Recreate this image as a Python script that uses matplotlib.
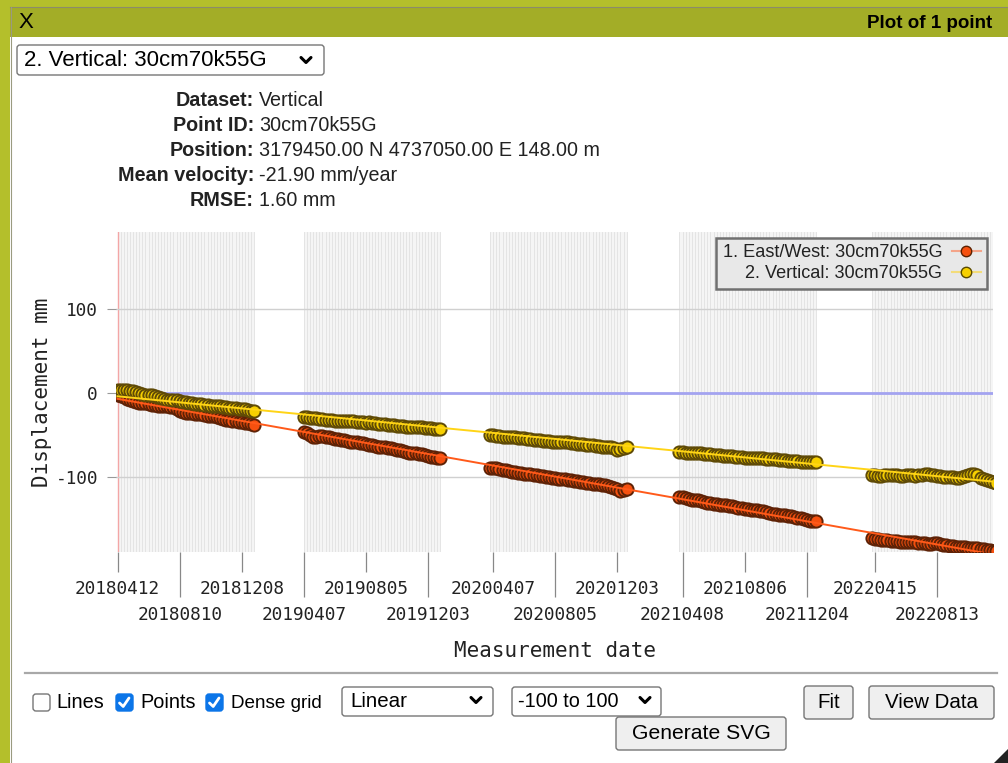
import numpy as np
import pandas as pd
import matplotlib
matplotlib.use('Agg')
import matplotlib.pyplot as plt
from matplotlib.patches import Rectangle, FancyBboxPatch, Polygon
from matplotlib.lines import Line2D

# ---------------- data ----------------
series_labels = ['1. East/West: 30cm70k55G', '2. Vertical: 30cm70k55G']

# acquisition seasons (6-day revisit); first acquisition date of each season
segment_starts = ['2018-04-12', '2019-04-07', '2020-04-01', '2021-04-02', '2022-04-09']

# displacement values (mm), one per acquisition
ew_seg1 = [-3, -4, -5, -7, -8, -10, -11, -12, -12, -12, -13, -14, -14, -15, -15,
           -16, -16, -17, -17, -19, -21, -23, -24, -24, -24, -25, -25, -25, -26, -27,
           -27, -28, -29, -30, -31, -32, -32, -33, -34, -35, -35, -36, -36, -37, -38]
ew_seg2 = [-47, -48, -50, -52, -53, -51, -51, -52, -53, -54, -55, -55, -56, -56, -57,
           -58, -58, -59, -60, -60, -61, -62, -62, -63, -64, -64, -65, -66, -66, -67,
           -68, -68, -69, -70, -71, -71, -72, -73, -73, -74, -75, -76, -76, -77, -78]
ew_seg3 = [-89, -89, -90, -91, -92, -92, -93, -94, -94, -95, -95, -96, -97, -97, -98,
           -98, -99, -99, -100, -100, -101, -101, -102, -102, -103, -104, -104, -105, -105, -106,
           -106, -107, -107, -108, -109, -109, -110, -110, -111, -112, -113, -115, -117, -116, -115]
ew_seg4 = [-124, -124, -125, -126, -127, -128, -128, -129, -130, -131, -131, -132, -132, -133, -134,
           -134, -135, -135, -136, -137, -137, -138, -138, -139, -140, -140, -141, -141, -142, -143,
           -144, -144, -145, -145, -146, -147, -147, -148, -149, -149, -150, -151, -152, -152, -153]
ew_seg5 = [-173, -174, -174, -175, -175, -175, -176, -176, -176, -177, -177, -177, -178, -178, -178,
           -179, -179, -179, -180, -180, -179, -179, -180, -181, -181, -182, -182, -183, -183, -184,
           -184, -185, -185, -185, -185, -186, -186, -187, -187, -188, -188]

vert_seg1 = [3, 4, 4, 3, 2, 2, 1, 0, -1, -2, -3, -3, -4, -5, -6,
             -7, -8, -8, -9, -9, -10, -11, -11, -12, -12, -13, -13, -13, -14, -14,
             -15, -15, -16, -16, -17, -17, -18, -18, -18, -19, -19, -19, -20, -21, -22]
vert_seg2 = [-29, -29, -30, -30, -30, -31, -31, -32, -32, -32, -33, -33, -33, -34, -33,
             -34, -34, -35, -35, -35, -36, -35, -36, -36, -37, -37, -37, -38, -38, -38,
             -39, -39, -39, -40, -40, -40, -41, -41, -41, -42, -42, -42, -43, -43, -43]
vert_seg3 = [-50, -50, -51, -51, -52, -52, -52, -53, -53, -54, -54, -54, -55, -55, -56,
             -56, -56, -57, -57, -57, -58, -58, -58, -59, -59, -59, -60, -60, -61, -61,
             -61, -62, -62, -62, -63, -63, -64, -64, -64, -65, -66, -68, -67, -66, -65]
vert_seg4 = [-70, -70, -71, -71, -71, -72, -72, -72, -73, -73, -73, -74, -74, -74, -75,
             -75, -75, -75, -76, -76, -76, -77, -77, -77, -77, -78, -78, -78, -79, -79,
             -79, -79, -80, -80, -80, -81, -81, -81, -81, -82, -82, -82, -82, -82, -82]
vert_seg5 = [-98, -98, -99, -99, -98, -98, -98, -98, -98, -99, -99, -98, -98, -98, -99,
             -98, -98, -97, -97, -98, -98, -99, -99, -100, -100, -100, -100, -101, -101, -100,
             -99, -98, -97, -96, -98, -101, -102, -104, -105, -106, -107]

ew_segments = [ew_seg1, ew_seg2, ew_seg3, ew_seg4, ew_seg5]
vert_segments = [vert_seg1, vert_seg2, vert_seg3, vert_seg4, vert_seg5]

# linear fits (endpoints)
trend_dates = ['2018-04-12', '2022-12-05']
ew_trend = [-7, -193]
vert_trend = [-4, -106]

tick_labels = ['20180412', '20180810', '20181208', '20190407', '20190805', '20191203', '20200407',
               '20200805', '20201203', '20210408', '20210806', '20211204', '20220415', '20220813']
yticks = [-100, 0, 100]

info_keys = ['Dataset:', 'Point ID:', 'Position:', 'Mean velocity:', 'RMSE:']
info_vals = ['Vertical', '30cm70k55G', '3179450.00 N 4737050.00 E 148.00 m', '-21.90 mm/year', '1.60 mm']

# ---------------- figure ----------------
W, H = 1008, 763
fig = plt.figure(figsize=(W / 100, H / 100), dpi=100)
fig.patch.set_facecolor('white')

ui = fig.add_axes([0, 0, 1, 1], zorder=0)
ui.set_xlim(0, W)
ui.set_ylim(H, 0)
ui.axis('off')

SANS = 'Liberation Sans'
MONO = 'DejaVu Sans Mono'
GREEN_OUT = '#b4bf2b'
GREEN_BAR = '#a3ad27'

# window frame
ui.add_patch(Rectangle((0, 0), W, 7, color=GREEN_OUT, lw=0))
ui.add_patch(Rectangle((0, 0), 10, H, color=GREEN_OUT, lw=0))
ui.add_patch(Rectangle((10, 7), W - 10, 30, color=GREEN_BAR, lw=0))
ui.plot([10, W], [6.5, 6.5], color='#8c8c6a', lw=0.8)
ui.plot([10.5, 10.5], [7, H], color='#9a9a80', lw=0.8)
ui.text(26, 23, 'X', fontsize=16, family=SANS, ha='center', va='center', color='black')
ui.text(992, 24, 'Plot of 1 point', fontsize=13.5, family=SANS, weight='bold', ha='right', va='center')


def box(x0, y0, x1, y1, fc='white', ec='#767676', r=3, lw=1.0):
    ui.add_patch(FancyBboxPatch((x0, y0), x1 - x0, y1 - y0,
                                boxstyle=f'round,pad=0,rounding_size={r}',
                                fc=fc, ec=ec, lw=lw))


def chevron(x, y, s=5):
    ui.plot([x - s, x, x + s], [y - 2.5, y + 2.5, y - 2.5], color='black', lw=2.2,
            solid_capstyle='round', solid_joinstyle='round')


# top dropdown
box(17, 45, 324, 75)
ui.text(24, 60.5, series_labels[1], fontsize=16, family=SANS, va='center')
chevron(306, 60)

# info block
for i, (k, v) in enumerate(zip(info_keys, info_vals)):
    yy = 101 + i * 24.8
    ui.text(254, yy, k, fontsize=14.2, family=SANS, weight='bold', ha='right', va='center', color='#222')
    ui.text(259, yy, v, fontsize=14.2, family=SANS, ha='left', va='center', color='#222')

# ---------------- chart ----------------
ax_l, ax_r, ax_t, ax_b = 116, 993, 232, 552
ax = fig.add_axes([ax_l / W, 1 - ax_b / H, (ax_r - ax_l) / W, (ax_b - ax_t) / H], zorder=1)
ax.patch.set_alpha(0)
for sp in ax.spines.values():
    sp.set_visible(False)

t0 = pd.Timestamp(segment_starts[0])
ax.set_xlim(t0 - pd.Timedelta(days=3), t0 + pd.Timedelta(days=1692))
ax.set_ylim(-189.5, 191.7)

# dates of every acquisition in each season
seg_date_lists = [pd.date_range(start, periods=len(vals), freq='6D')
                  for start, vals in zip(segment_starts, ew_segments)]

# dense grid (one line per acquisition)
for acq in seg_date_lists:
    ax.axvspan(acq[0], acq[-1], color='#f5f5f5', lw=0, zorder=0)
    for d in acq:
        ax.axvline(d, color='#e3e3e3', lw=0.65, zorder=0.5)

ax.axvline(t0, color='#f3a6a6', lw=1.0, zorder=0.6)
for yv in yticks:
    if yv == 0:
        ax.axhline(yv, color='#a3a3f0', lw=2.0, zorder=0.7)
    else:
        ax.axhline(yv, color='#d0d0d0', lw=1.0, zorder=0.7)

all_dates = [d for acq in seg_date_lists for d in acq]
ew_all = [v for s in ew_segments for v in s]
vert_all = [v for s in vert_segments for v in s]

EW_C, V_C = '#f5500f', '#f7d000'
ax.plot(all_dates, ew_all, 'o', ms=8.8, mfc=EW_C, mec='#5e2206', mew=1.4, ls='none', zorder=2)
ax.plot(all_dates, vert_all, 'o', ms=8.8, mfc=V_C, mec='#5f4a06', mew=1.4, ls='none', zorder=3)

td = pd.to_datetime(trend_dates)
ax.plot(td, ew_trend, color='#ff5a1a', lw=1.4, zorder=4)
ax.plot(td, vert_trend, color='#ffd416', lw=1.4, zorder=4)

# y axis
ax.set_yticks(yticks)
ax.set_yticklabels([str(v) for v in yticks], family=MONO, fontsize=12.8, color='#222')
ax.tick_params(axis='y', length=6.5, width=0.8, color='#999', pad=6.5)

# x axis: two rows of labels
tick_dates = pd.to_datetime(tick_labels, format='%Y%m%d')
ax.set_xticks(tick_dates[0::2])
ax.set_xticklabels(tick_labels[0::2], family=MONO, fontsize=12.8, color='#222')
ax.set_xticks(tick_dates[1::2], minor=True)
ax.set_xticklabels(tick_labels[1::2], minor=True, family=MONO, fontsize=12.8, color='#222')
ax.tick_params(axis='x', which='major', length=14.4, width=0.9, color='#888', pad=6.0)
ax.tick_params(axis='x', which='minor', length=32.4, width=0.9, color='#888', pad=6.5)

fig.text(42 / W, 1 - 392 / H, 'Displacement mm', rotation=90, family=MONO, fontsize=15,
         ha='center', va='center', color='#222')
fig.text(555 / W, 1 - 651 / H, 'Measurement date', family=MONO, fontsize=15,
         ha='center', va='center', color='#222')

# legend
handles = [Line2D([], [], color='#f4a489', lw=1.5, marker='o', ms=7.5, mfc=EW_C, mec='#5a2000', mew=1.0),
           Line2D([], [], color='#f3dc7a', lw=1.5, marker='o', ms=7.5, mfc=V_C, mec='#5a4a00', mew=1.0)]
leg = ax.legend(handles, series_labels, loc='upper right', bbox_to_anchor=(987 / W, 1 - 238 / H),
                bbox_transform=fig.transFigure, markerfirst=False, fancybox=False, framealpha=1,
                facecolor='#e8e8e8', edgecolor='#707070', prop={'family': SANS, 'size': 13.1},
                handlelength=1.6, handletextpad=0.5, borderpad=0.35, labelspacing=0.22, borderaxespad=0)
leg.get_frame().set_linewidth(1.8)
for t in leg.get_texts():
    t.set_color('#222')

# ---------------- controls ----------------
ui.plot([25, 997], [673, 673], color='#a8a8a8', lw=1.6)


def checkbox(x, y, checked):
    if checked:
        box(x, y, x + 17, y + 17, fc='#0b75e8', ec='#0b75e8', r=3)
        ui.plot([x + 3.5, x + 7.2, x + 13], [y + 9, y + 12.5, y + 4], color='white', lw=2,
                solid_capstyle='round', solid_joinstyle='round')
    else:
        box(x, y, x + 17, y + 17, fc='white', ec='#767676', r=3)


checkbox(33, 694, False)
ui.text(56, 703, 'Lines', fontsize=14.3, family=SANS, va='center')
checkbox(116, 694, True)
ui.text(140, 703, 'Points', fontsize=14.3, family=SANS, va='center')
checkbox(206, 694, True)
ui.text(231, 703, 'Dense grid', fontsize=13.6, family=SANS, va='center')

box(342, 687, 493, 716)
ui.text(350, 701.5, 'Linear', fontsize=14.8, family=SANS, va='center')
chevron(476, 700)
box(512, 687, 661, 716)
ui.text(518, 701.5, '-100 to 100', fontsize=14.3, family=SANS, va='center')
chevron(645, 700)

box(804, 686, 853, 719, fc='#efefef')
ui.text(828.5, 702.5, 'Fit', fontsize=14.8, family=SANS, ha='center', va='center')
box(869, 686, 994, 719, fc='#efefef')
ui.text(931.5, 702.5, 'View Data', fontsize=14.8, family=SANS, ha='center', va='center')
box(616, 717, 786, 750, fc='#efefef')
ui.text(701, 733.5, 'Generate SVG', fontsize=15.2, family=SANS, ha='center', va='center')

ui.add_patch(Polygon([(994, 763), (1008, 749), (1008, 763)], closed=True, color='#222', lw=0))

fig.savefig('out.png', dpi=100, facecolor='white')
